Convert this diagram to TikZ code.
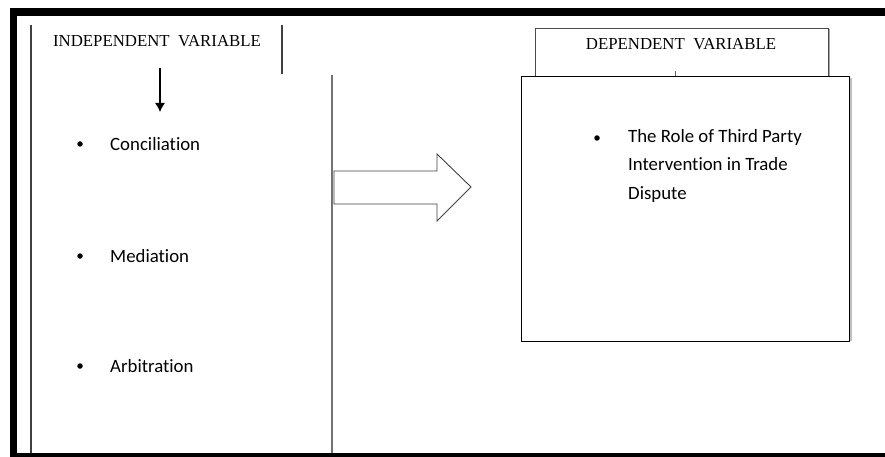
\documentclass[tikz,border=0pt]{standalone}
\usepackage{fontspec}
\usetikzlibrary{arrows.meta}
\setmainfont{Liberation Serif}
\newfontfamily\calfont[Ligatures=NoCommon]{Carlito}
\begin{document}
\begin{tikzpicture}[x=1pt,y=-1pt,
  head/.style={font=\fontsize{16.8}{20}\selectfont, inner sep=0pt, anchor=base},
  item/.style={font=\calfont\fontsize{18.8}{28.5}\selectfont, inner sep=0pt, anchor=base west},
  dot/.style={circle, fill=black, inner sep=0pt, minimum size=5.5pt},
  boxline/.style={draw=black!75, line width=1.2pt}]
\useasboundingbox (0,0) rectangle (885,457);
% outer frame
\fill[black] (10,8) rectangle (885,16);
\fill[black] (10,8) rectangle (17,457);
\fill[black] (10,453) rectangle (885,457);
% independent variable box
\draw[boxline] (31,25) -- (31,453);
\draw[boxline] (282,25) -- (282,74);
\draw[draw=black!55, line width=1.2pt] (332,75) -- (332,453);
\node[head] (iv) at (157,47) {INDEPENDENT\ \ VARIABLE};
\coordinate (ivarrowtop) at (160,68);
\coordinate (ivarrowend) at (160,112);
\draw[line width=1.2pt, -{Latex[length=9pt,width=10pt]}] (ivarrowtop) -- (ivarrowend);
\node[dot] (b1) at (80,144) {};
\node[item] (t1) at (110,150) {Conciliation};
\node[dot] (b2) at (80,256) {};
\node[item] (t2) at (110,262) {Mediation};
\node[dot] (b3) at (80,366) {};
\node[item] (t3) at (110,372) {Arbitration};
% big arrow
\draw[black!75, line width=0.9pt, line join=miter]
  (334,171) -- (437,171) -- (437,154) -- (471,187) -- (437,221) -- (437,204) -- (334,204) -- cycle;
% dependent variable
\draw[black!35, line width=1.6pt] (829,29) -- (829,76);
\node[draw=black!70, line width=0.8pt, minimum width=293pt, minimum height=48pt, inner sep=0pt, anchor=north west] (dvbox) at (535,28) {};
\node[head] (dv) at (681,50) {DEPENDENT\ \ VARIABLE};
\coordinate (dvtick) at (675,71);
\draw[black!60, line width=0.6pt] (dvtick) -- (dvbox.south -| dvtick);
\draw[black!25, line width=2pt] (851,78) -- (851,341);
\node[draw=black, fill=white, line width=1.3pt, minimum width=328pt, minimum height=265pt, inner sep=0pt, anchor=north west] (main) at (521,76) {};
\node[dot] (b4) at (597,138) {};
\node[item] (t4a) at (628,143) {The Role of Third Party};
\node[item] (t4b) at (628,171) {Intervention in Trade};
\node[item] (t4c) at (628,199) {Dispute};
\end{tikzpicture}
\end{document}
